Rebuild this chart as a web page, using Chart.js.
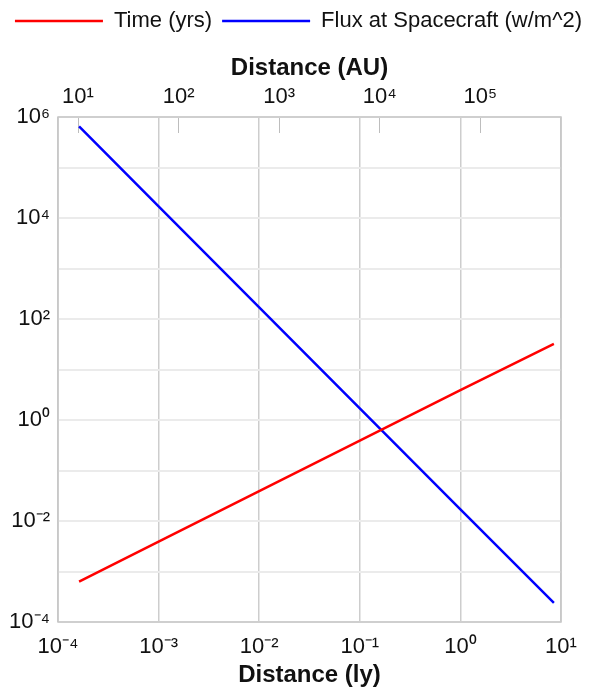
<!DOCTYPE html>
<html>
<head>
<meta charset="utf-8">
<script src="https://cdn.jsdelivr.net/npm/chart.js@4.4.0/dist/chart.umd.min.js"></script>
<style>
  html, body { margin: 0; padding: 0; background: #fff; }
  #wrap { width: 597px; height: 690px; }
</style>
</head>
<body>
<div id="wrap"><canvas id="chart"></canvas></div>
<script>
// values
const distanceLy = [1.62e-4, 1e-3, 1e-2, 1e-1, 1, 8.5];
const timeYrs = [6.3e-4, 3.9e-3, 3.9e-2, 0.39, 3.9, 32];
const fluxWm2 = [6.5e5, 1.7e4, 170, 1.7, 0.017, 2.4e-4];

const lyTicks = [1e-4, 1e-3, 1e-2, 1e-1, 1, 10];
const auTicks = [10, 100, 1000, 1e4, 1e5];
const yTicks = [1e-4, 1e-3, 1e-2, 1e-1, 1, 10, 100, 1e3, 1e4, 1e5, 1e6];
const AU_PER_LY = 63241;

const SUP = { '0': '⁰', '1': '¹', '2': '²', '3': '³', '4': '⁴', '5': '⁵', '6': '⁶', '7': '⁷', '8': '⁸', '9': '⁹', '-': '⁻' };
const expOf = v => Math.round(Math.log10(v));
const pow10 = v => '10' + String(expOf(v)).split('').map(c => SUP[c]).join('');

const FONT = "'Liberation Sans', Arial, sans-serif";
Chart.defaults.font.family = FONT;
Chart.defaults.color = '#111';

const framePlugin = {
  id: 'frame',
  beforeDatasetsDraw(chart) {
    const { ctx, chartArea: a } = chart;
    ctx.save();
    ctx.strokeStyle = '#c6c6c6';
    ctx.lineWidth = 1.5;
    ctx.strokeRect(a.left, a.top, a.right - a.left, a.bottom - a.top);
    ctx.restore();
  }
};

const toPoints = (xs, ys) => xs.map((x, i) => ({ x: x, y: ys[i] }));

new Chart(document.getElementById('chart').getContext('2d'), {
  type: 'line',
  data: {
    datasets: [
      {
        label: 'Time (yrs)',
        data: toPoints(distanceLy, timeYrs),
        borderColor: '#ff0000',
        backgroundColor: '#ff0000',
        borderWidth: 2.5,
        pointRadius: 0,
        xAxisID: 'x',
        yAxisID: 'y',
      },
      {
        label: 'Flux at Spacecraft (w/m^2)',
        data: toPoints(distanceLy, fluxWm2),
        borderColor: '#0000ff',
        backgroundColor: '#0000ff',
        borderWidth: 2.5,
        pointRadius: 0,
        xAxisID: 'x',
        yAxisID: 'y',
      },
    ],
  },
  options: {
    responsive: true,
    maintainAspectRatio: false,
    animation: false,
    layout: { padding: 0 },
    plugins: {
      legend: {
        position: 'top',
        labels: {
          boxWidth: 88,
          boxHeight: 0,
          padding: 10,
          font: { size: 22 },
          color: '#111',
        },
      },
      tooltip: { enabled: false },
    },
    scales: {
      x: {
        type: 'logarithmic',
        position: 'bottom',
        min: 1e-4,
        max: 10,
        afterBuildTicks: s => { s.ticks = lyTicks.map(v => ({ value: v })); },
        afterFit: s => { s.height = 68; },
        ticks: { callback: v => pow10(v), font: { size: 22 }, padding: 12, maxRotation: 0, autoSkip: false },
        grid: { color: '#cdcdcd', lineWidth: 1.5, drawTicks: false },
        border: { display: false },
        title: { display: true, text: 'Distance (ly)', font: { size: 24, weight: 'bold' }, padding: 0 },
      },
      xAU: {
        type: 'logarithmic',
        position: 'top',
        min: 1e-4 * AU_PER_LY,
        max: 10 * AU_PER_LY,
        afterBuildTicks: s => { s.ticks = auTicks.map(v => ({ value: v })); },
        afterFit: s => { s.height = 117 - s.chart.legend.height; },
        ticks: { callback: v => pow10(v), font: { size: 22 }, padding: 23, maxRotation: 0, autoSkip: false },
        grid: { drawOnChartArea: false, tickLength: -16, color: '#bdbdbd', lineWidth: 1 },
        border: { display: false },
        title: { display: true, text: 'Distance (AU)', font: { size: 24, weight: 'bold' }, padding: { top: 12, bottom: 0 } },
      },
      y: {
        type: 'logarithmic',
        min: 1e-4,
        max: 1e6,
        afterBuildTicks: s => { s.ticks = yTicks.map(v => ({ value: v })); },
        afterFit: s => { s.width = 58; },
        ticks: { callback: v => (expOf(v) % 2 === 0 ? pow10(v) : ''), font: { size: 22 }, padding: 8, autoSkip: false },
        grid: { color: '#ebebeb', lineWidth: 2, drawTicks: false },
        border: { display: false },
      },
      // empty right axis, only keeps a margin on the right
      yRight: {
        type: 'linear',
        position: 'right',
        min: 0,
        max: 1,
        afterFit: s => { s.width = 36; },
        ticks: { display: false },
        grid: { display: false },
        border: { display: false },
      },
    },
  },
  plugins: [framePlugin],
});
</script>
</body>
</html>
